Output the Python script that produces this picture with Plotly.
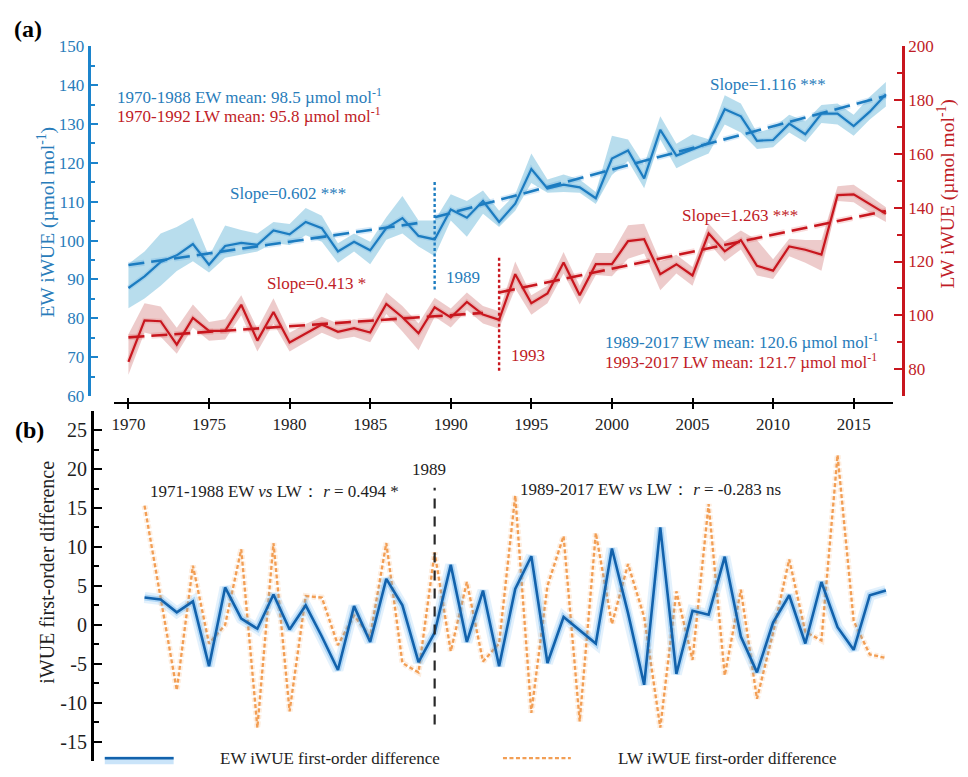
import plotly.graph_objects as go

# ---------------------------------------------------------------- data
years = list(range(1970, 2018))

# Earlywood iWUE (umol mol-1) with its uncertainty band
ew_iwue = [87.8, 90.8, 94.5, 96.2, 99.1, 93.8, 98.6, 99.4, 98.9, 102.6,
           101.6, 104.8, 103.2, 97.2, 99.7, 97.5, 103.2, 105.8, 101.2, 100.3,
           108.0, 105.9, 110.2, 104.8, 109.5, 118.4, 113.4, 114.4, 113.7, 110.9,
           121.1, 123.2, 116.0, 128.5, 121.9, 123.6, 125.1, 133.8, 132.0, 125.7,
           125.9, 130.1, 127.4, 132.7, 132.7, 129.5, 133.2, 137.7]
ew_upper = [94.0, 97.2, 101.8, 103.5, 105.9, 96.0, 103.9, 102.7, 101.8, 104.8,
            104.3, 108.4, 106.4, 99.3, 101.8, 99.7, 106.0, 111.5, 105.2, 105.2,
            111.9, 110.2, 112.9, 107.7, 111.9, 122.4, 115.7, 117.0, 115.7, 112.5,
            127.0, 126.0, 119.5, 132.0, 124.9, 127.4, 126.1, 137.4, 135.3, 127.8,
            129.0, 132.4, 130.7, 134.9, 135.3, 132.4, 137.0, 140.8]
ew_lower = [82.6, 85.1, 88.4, 92.2, 94.7, 91.8, 95.6, 96.4, 97.2, 99.3,
            98.9, 101.4, 99.7, 94.3, 97.2, 93.9, 100.2, 101.8, 98.5, 96.0,
            105.2, 101.0, 106.9, 103.5, 107.7, 114.8, 112.3, 112.5, 112.3, 109.4,
            116.9, 120.5, 113.5, 126.0, 118.6, 120.7, 122.4, 129.9, 127.8, 123.6,
            124.0, 127.8, 125.3, 130.3, 129.9, 127.0, 131.2, 134.5]

# Latewood iWUE (umol mol-1) with its uncertainty band
lw_iwue = [82.7, 98.1, 97.8, 89.1, 99.0, 94.2, 94.2, 103.9, 90.6, 101.2,
           89.9, 93.3, 96.6, 93.9, 95.2, 93.6, 104.2, 99.3, 93.3, 103.0,
           99.2, 105.0, 100.3, 98.3, 115.3, 104.5, 108.1, 119.6, 107.5, 119.0,
           119.0, 127.6, 128.3, 115.3, 119.0, 114.8, 130.5, 123.8, 128.0, 118.4,
           116.6, 125.6, 124.4, 122.6, 144.7, 145.0, 141.3, 137.7]
lw_upper = [93.0, 104.5, 103.3, 95.4, 104.0, 97.5, 98.5, 107.5, 95.0, 106.3,
            93.5, 96.8, 99.5, 97.0, 98.5, 97.5, 108.5, 103.5, 97.0, 106.5,
            102.5, 108.5, 103.5, 101.5, 120.0, 107.5, 111.0, 123.5, 111.0, 123.2,
            123.2, 133.5, 134.0, 120.0, 122.5, 118.0, 134.1, 127.5, 131.5, 128.0,
            120.8, 128.5, 128.0, 128.0, 148.0, 148.5, 144.5, 140.2]
lw_lower = [77.9, 93.6, 92.0, 85.7, 95.5, 90.5, 91.0, 100.0, 86.5, 97.0,
            86.5, 90.0, 93.5, 91.0, 92.0, 90.0, 100.5, 94.0, 87.0, 99.5,
            95.5, 102.0, 97.0, 95.0, 110.0, 100.2, 104.5, 115.5, 104.0, 115.0,
            114.5, 121.0, 123.0, 109.3, 115.5, 111.0, 127.0, 120.0, 124.5, 114.8,
            113.5, 122.0, 119.5, 116.6, 142.5, 142.0, 138.0, 134.7]

# First-order differences (1971-2017)
diff_years = years[1:]
ew_diff = [3.5, 3.25, 1.6, 3.0, -5.3, 4.8, 0.8, -0.5, 3.9, -0.6,
           2.5, -1.5, -5.8, 2.4, -2.2, 5.9, 2.5, -4.8, -1.0, 7.7,
           -2.2, 4.4, -5.3, 4.6, 8.8, -4.9, 1.0, -0.7, -2.4, 9.8,
           1.5, -7.7, 12.5, -6.3, 1.8, 1.3, 8.75, -1.5, -6.1, 0.3,
           3.8, -2.4, 5.5, -0.3, -3.2, 3.8, 4.4]
lw_diff = [15.3, 3.4, -8.4, 7.6, -2.4, 0.0, 9.7, -13.2, 10.5, -11.1,
           3.7, 3.5, -2.6, 1.2, -1.5, 10.5, -4.9, -6.1, 9.3, -3.4,
           5.5, -4.7, -2.4, 16.6, -11.3, 5.0, 11.4, -12.4, 11.8, 0.1,
           7.8, 1.0, -13.2, 4.3, -4.5, 15.5, -6.5, 4.5, -9.5, -1.0,
           8.4, -0.9, -2.0, 21.8, 0.5, -3.8, -4.25]

# Breakpoints and piecewise linear trends (value at segment start, slope per year)
EW_BREAK = 1989
LW_BREAK = 1993
ew_trend = [(1970, EW_BREAK - 1, 93.7, 0.602), (EW_BREAK, 2017, 106.0, 1.116)]
lw_trend = [(1970, LW_BREAK - 1, 91.8, 0.413), (LW_BREAK, 2017, 108.5, 1.263)]

# Axis ticks
x_ticks = list(range(1970, 2016, 5))
diff_ticks = [-15, -10, -5, 0, 5, 10, 15, 20, 25]
diff_ticktext = ["-15", "-10", "-5", "0", "5", "10", "15", "20", "25"]

# ---------------------------------------------------------------- styling
W, H = 968, 777
FONT = "Liberation Serif"
BLUE = "rgb(28,124,192)"
BLUE_DARK = "rgb(18,98,172)"
BLUE_TXT = "rgb(40,124,186)"
BLUE_AX = "rgb(28,132,204)"
BLUE_BAND = "rgba(140,200,226,0.62)"
RED = "rgb(200,22,30)"
RED_TXT = "rgb(192,28,38)"
RED_BAND = "rgba(214,140,140,0.45)"
ORANGE = "rgb(242,158,84)"


def fx(p):
    return p / W


def fy(p):
    return 1 - p / H


X_RANGE = [1969.09, 2017.45]
X_DOMAIN = [fx(112), fx(893)]
TOP_DOMAIN = [fy(396.7), fy(38.3)]
BOT_DOMAIN = [fy(771), fy(411.7)]

fig = go.Figure()


def band(x, lo, hi, color, yaxis):
    fig.add_trace(go.Scatter(x=x, y=hi, mode="lines", line=dict(width=0),
                             hoverinfo="skip", showlegend=False, xaxis="x", yaxis=yaxis))
    fig.add_trace(go.Scatter(x=x, y=lo, mode="lines", line=dict(width=0),
                             fill="tonexty", fillcolor=color, hoverinfo="skip",
                             showlegend=False, xaxis="x", yaxis=yaxis))


def glow_line(x, y, color, glow, width, xaxis, yaxis, dash=None, gw=7):
    fig.add_trace(go.Scatter(x=x, y=y, mode="lines", line=dict(color=glow, width=gw, dash=dash),
                             hoverinfo="skip", showlegend=False, xaxis=xaxis, yaxis=yaxis))
    fig.add_trace(go.Scatter(x=x, y=y, mode="lines", line=dict(color=color, width=width, dash=dash),
                             showlegend=False, xaxis=xaxis, yaxis=yaxis))


# Panel (a): bands, series, trends
band(years, ew_lower, ew_upper, BLUE_BAND, "y")
band(years, lw_lower, lw_upper, RED_BAND, "y2")
glow_line(years, ew_iwue, BLUE, "rgba(60,150,220,0.18)", 2.2, "x", "y", gw=5)
glow_line(years, lw_iwue, RED, "rgba(220,60,60,0.15)", 2.2, "x", "y2", gw=5)

for (x0, x1, v0, s) in ew_trend:
    xs = [x0, x1]
    ys = [v0, v0 + s * (x1 - x0)]
    glow_line(xs, ys, BLUE, "rgba(60,150,220,0.2)", 2.6, "x", "y", dash="16px,7px", gw=6)
for (x0, x1, v0, s) in lw_trend:
    xs = [x0, x1]
    ys = [v0, v0 + s * (x1 - x0)]
    glow_line(xs, ys, RED, "rgba(220,60,60,0.18)", 2.6, "x", "y2", dash="16px,7px", gw=6)

# Panel (b): first-order differences
glow_line(diff_years, lw_diff, ORANGE, "rgba(245,175,110,0.22)", 2.3, "x2", "y3", dash="4px,2.5px", gw=6)
fig.add_trace(go.Scatter(x=diff_years, y=ew_diff, mode="lines",
                         line=dict(color="rgba(80,165,235,0.16)", width=11),
                         hoverinfo="skip", showlegend=False, xaxis="x2", yaxis="y3"))
glow_line(diff_years, ew_diff, BLUE_DARK, "rgba(80,165,235,0.35)", 2.6, "x2", "y3", gw=6)

# invisible carrier for the tick-crossing overlay axis
fig.add_trace(go.Scatter(x=[years[0]], y=[ew_iwue[0]], mode="markers",
                         marker=dict(opacity=0), hoverinfo="skip", showlegend=False,
                         xaxis="x4", yaxis="y"))

# Breakpoint markers
shapes = [
    dict(type="line", xref="x", yref="y", x0=EW_BREAK, x1=EW_BREAK, y0=87.4, y1=115.7,
         line=dict(color=BLUE, width=2.4, dash="3px,2.5px")),
    dict(type="line", xref="x", yref="y2", x0=LW_BREAK, x1=LW_BREAK, y0=79.4, y1=122.2,
         line=dict(color=RED, width=2.4, dash="3px,2.5px")),
    dict(type="line", xref="x2", yref="y3", x0=EW_BREAK, x1=EW_BREAK, y0=-12.8, y1=17.6,
         line=dict(color="rgb(40,40,40)", width=2.2, dash="10px,8px")),
    # legend samples
    dict(type="line", xref="paper", yref="paper", x0=fx(103), x1=fx(172), y0=fy(770), y1=fy(770),
         line=dict(color="rgba(80,165,235,0.3)", width=8)),
    dict(type="line", xref="paper", yref="paper", x0=fx(103), x1=fx(172), y0=fy(768), y1=fy(768),
         line=dict(color=BLUE_DARK, width=2.6)),
    dict(type="line", xref="paper", yref="paper", x0=fx(502), x1=fx(570), y0=fy(768), y1=fy(768),
         line=dict(color=ORANGE, width=2.3, dash="4px,2.5px")),
]

sup = "<sup>-1</sup>"


def ann(text, x, y, color="black", size=17, xanchor="center", angle=0, bold=False):
    if bold:
        text = "<b>" + text + "</b>"
    return dict(text=text, x=fx(x), y=fy(y), xref="paper", yref="paper",
                xanchor=xanchor, yanchor="middle", showarrow=False, textangle=angle,
                font=dict(family=FONT, size=size, color=color))


annotations = [
    ann("(a)", 26, 20, size=24, bold=True),
    ann("(b)", 28, 432, size=24, bold=True),
    ann("1970-1988 EW mean: 98.5 \u00b5mol mol" + sup, 113, 89, BLUE_TXT, xanchor="left"),
    ann("1970-1992 LW mean: 95.8 \u00b5mol mol" + sup, 113, 109, RED_TXT, xanchor="left"),
    ann("Slope=0.602 ***", 287, 189, BLUE_TXT),
    ann("Slope=1.116 ***", 768, 77, BLUE_TXT),
    ann("Slope=0.413 *", 315, 281, RED_TXT),
    ann("Slope=1.263 ***", 740, 212, RED_TXT),
    ann("1989-2017 EW mean: 120.6 \u00b5mol mol" + sup, 602, 340, BLUE_TXT, xanchor="left"),
    ann("1993-2017 LW mean: 121.7 \u00b5mol mol" + sup, 602, 361, RED_TXT, xanchor="left"),
    ann(str(EW_BREAK), 462, 275, BLUE_TXT),
    ann(str(LW_BREAK), 527, 355, RED_TXT),
    ann(str(EW_BREAK), 428, 472, "rgb(30,30,30)"),
    ann("1971-1988 EW <i>vs</i> LW\uff1a <i>r</i> = 0.494 *", 146, 495, "rgb(30,30,30)", xanchor="left"),
    ann("1989-2017 EW <i>vs</i> LW\uff1a <i>r</i> = -0.283 ns", 517, 493, "rgb(30,30,30)", xanchor="left"),
    ann("EW iWUE (\u00b5mol mol" + sup + ")", 45, 218, BLUE_TXT, size=19.5, angle=-90),
    ann("LW iWUE (\u00b5mol mol" + sup + ")", 946, 190, RED_TXT, size=19.5, angle=-90),
    ann("iWUE first-order difference", 45, 577, "rgb(30,30,30)", size=20, angle=-90),
    ann("EW iWUE first-order difference", 329, 768, "rgb(30,30,30)"),
    ann("LW iWUE first-order difference", 727, 768, "rgb(30,30,30)"),
]

fig.update_layout(
    width=W, height=H,
    margin=dict(l=0, r=0, t=0, b=0),
    paper_bgcolor="white", plot_bgcolor="white",
    showlegend=False,
    font=dict(family=FONT, size=17, color="black"),
    shapes=shapes,
    annotations=annotations,
    xaxis=dict(domain=X_DOMAIN, range=X_RANGE, anchor="free", position=fy(404),
               showline=True, linecolor="black", linewidth=2.4,
               ticks="outside", ticklen=5, tickwidth=2.2, tickcolor="black",
               tickmode="array", tickvals=x_ticks, showgrid=False, zeroline=False,
               tickfont=dict(family=FONT, size=17, color="rgb(30,30,30)")),
    xaxis4=dict(domain=X_DOMAIN, range=X_RANGE, anchor="free", position=fy(404),
                overlaying="x", showline=False, ticks="inside", ticklen=5, tickwidth=2.2,
                tickcolor="black", tickmode="array", tickvals=x_ticks,
                showticklabels=False, showgrid=False, zeroline=False),
    xaxis2=dict(domain=X_DOMAIN, range=X_RANGE, anchor="y3", visible=False),
    yaxis=dict(domain=TOP_DOMAIN, range=[60, 150], anchor="free", position=fx(86.7),
               side="left", showline=True, linecolor=BLUE_AX, linewidth=2.6,
               ticks="inside", ticklen=8, tickwidth=2.4, tickcolor=BLUE_AX,
               tick0=0, dtick=10, showgrid=False, zeroline=False,
               minor=dict(ticks="inside", ticklen=5, tickwidth=2.2, tickcolor=BLUE_AX,
                          tick0=0, dtick=5, showgrid=False),
               tickfont=dict(family=FONT, size=17, color=BLUE_TXT)),
    yaxis2=dict(range=[70, 200], overlaying="y", anchor="free", position=fx(903),
                side="right", showline=True, linecolor=RED, linewidth=2.6,
                ticks="inside", ticklen=8, tickwidth=2.4, tickcolor=RED,
                tick0=0, dtick=20, showgrid=False, zeroline=False,
                minor=dict(ticks="inside", ticklen=5, tickwidth=2.2, tickcolor=RED,
                           tick0=0, dtick=10, showgrid=False),
                tickfont=dict(family=FONT, size=17, color=RED_TXT)),
    yaxis3=dict(domain=BOT_DOMAIN, range=[-17.5, 27.5], anchor="free", position=fx(90),
                side="left", showline=True, linecolor="black", linewidth=2.6,
                ticks="inside", ticklen=8, tickwidth=2.4, tickcolor="black",
                tickmode="array", tickvals=diff_ticks, ticktext=diff_ticktext,
                showgrid=False, zeroline=False,
                minor=dict(ticks="inside", ticklen=5, tickwidth=2.2, tickcolor="black",
                           tick0=0, dtick=2.5, showgrid=False),
                tickfont=dict(family=FONT, size=20, color="rgb(30,30,30)")),
)

fig.write_html("out.html")
